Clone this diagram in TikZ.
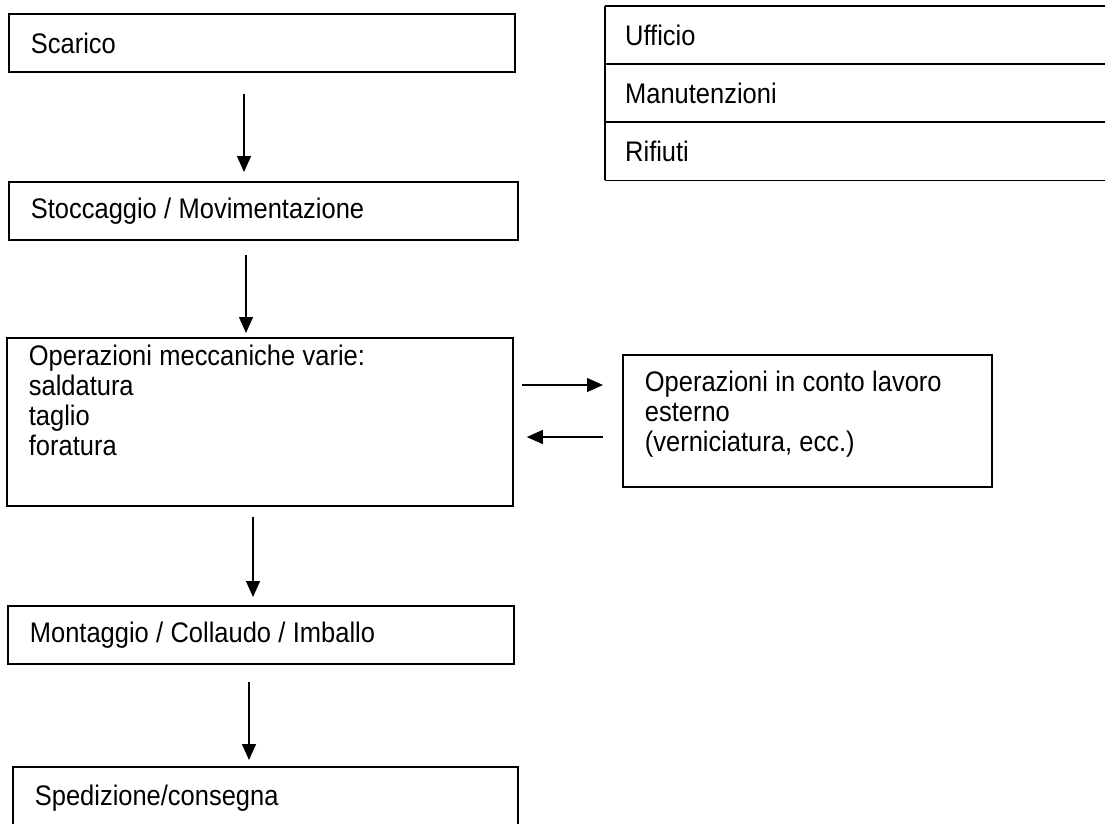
\documentclass[tikz,border=0pt]{standalone}
\usepackage{fontspec}
\setmainfont{Liberation Sans}[FakeStretch=0.9]
\usetikzlibrary{arrows.meta}
\begin{document}
\begin{tikzpicture}[x=1pt,y=-1pt,
  txt/.style={font=\fontsize{28.3}{30}\selectfont,execute at begin node={\spaceskip=0.26em\relax}},
  box/.style={txt,draw,line width=1.8pt,anchor=north west,inner xsep=22pt,inner ysep=0pt,align=left},
  row/.style={txt,anchor=north west,inner xsep=20pt,inner ysep=0pt,align=left,
    minimum width=500pt,text width=460pt,minimum height=58pt},
  frame/.style={line width=1.8pt},
  arr/.style={line width=1.3pt,-{Triangle[length=16pt,width=14pt]}}
]
\useasboundingbox (0,0) rectangle (1105,823);

% main flow boxes
\node[box,minimum width=506pt,text width=462pt,minimum height=58pt] (scarico) at (8,13) {Scarico};
\node[box,minimum width=509pt,text width=465pt,minimum height=58pt] (stocc) at (8,181) {Stoccaggio / Movimentazione};
\node[box,minimum width=506pt,text width=462pt,minimum height=168pt] (op) at (6,337)
  {Operazioni meccaniche varie:\\saldatura\\taglio\\foratura\\[14pt]\mbox{}};
\node[box,minimum width=369pt,text width=325pt,minimum height=132pt] (conto) at (622,354)
  {Operazioni in conto lavoro\\esterno\\(verniciatura, ecc.)\\[-10pt]\mbox{}};
\node[box,minimum width=506pt,text width=462pt,minimum height=58pt] (mont) at (7,605) {Montaggio / Collaudo / Imballo};
\node[box,minimum width=505pt,text width=461pt,minimum height=62pt] (sped) at (12,766) {Spedizione/consegna};

% right table
\node[row] (uff) at (605,6) {Ufficio};
\node[row] (man) at (605,64) {Manutenzioni};
\node[row] (rif) at (605,122) {Rifiuti};
\draw[frame] (uff.north west) -- (uff.north east);
\draw[frame] (man.north west) -- (man.north east);
\draw[frame] (rif.north west) -- (rif.north east);
\draw[frame] (rif.south west) -- (rif.south east);
\draw[frame] (uff.north west) -- (rif.south west);

% connector positions
\coordinate (c1) at (244,0);
\coordinate (c2) at (246,0);
\coordinate (c3) at (253,0);
\coordinate (c4) at (249,0);
\coordinate (r1) at (0,385);
\coordinate (r2) at (0,437);

\draw[arr,shorten <=21pt,shorten >=9pt] (scarico.south -| c1) -- (stocc.north -| c1);
\draw[arr,shorten <=14pt,shorten >=4pt] (stocc.south -| c2) -- (op.north -| c2);
\draw[arr,shorten <=10pt,shorten >=8pt] (op.south -| c3) -- (mont.north -| c3);
\draw[arr,shorten <=17pt,shorten >=6pt] (mont.south -| c4) -- (sped.north -| c4);
\draw[arr,shorten <=8pt,shorten >=19pt] (op.east |- r1) -- (conto.west |- r1);
\draw[arr,shorten <=19pt,shorten >=13pt] (conto.west |- r2) -- (op.east |- r2);
\end{tikzpicture}
\end{document}
